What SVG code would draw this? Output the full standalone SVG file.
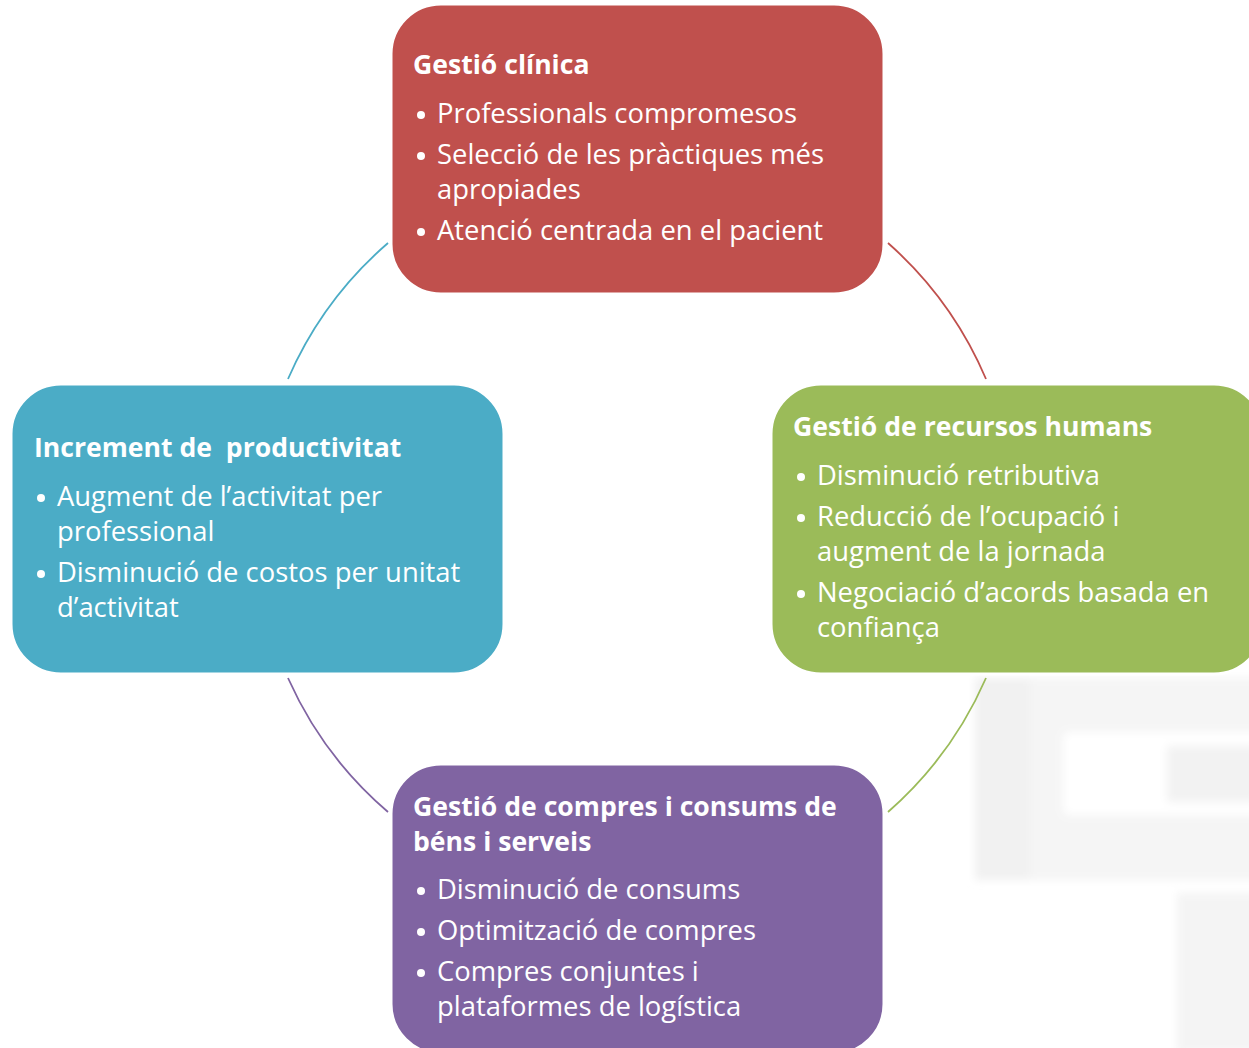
<svg xmlns="http://www.w3.org/2000/svg" width="1249" height="1048" viewBox="0 0 1249 1048">
<defs>
<style>
.box{stroke:#fff;stroke-width:3}
.t{font-family:"Open Sans","Liberation Sans",sans-serif;font-weight:700;font-size:26.6px;fill:#fff}
.b{font-family:"Open Sans","Liberation Sans",sans-serif;font-size:27.4px;fill:#fff}
.dot{fill:#fff}
.arc{fill:none;stroke-width:1.8}
</style>
<filter id="blur" x="-10%" y="-10%" width="120%" height="120%"><feGaussianBlur stdDeviation="4"/></filter>
</defs>
<rect width="1249" height="1048" fill="#fff"/>
<g id="background" filter="url(#blur)">
<rect x="975" y="678" width="290" height="202" fill="#f5f5f5"/>
<rect x="975" y="678" width="55" height="202" fill="#f1f1f1"/>
<rect x="1063" y="732" width="200" height="83" rx="6" fill="#fff"/>
<rect x="1167" y="746" width="90" height="56" fill="#f2f2f2"/>
<rect x="1177" y="893" width="80" height="160" fill="#f4f4f4"/>
</g>
<g id="connectors">
<path class="arc" stroke="#4BACC6" d="M388,243 A380,380 0 0 0 288,379"/>
<path class="arc" stroke="#C0504D" d="M888,243 A380,380 0 0 1 986,379"/>
<path class="arc" stroke="#9BBB59" d="M986,678 A380,380 0 0 1 888,812"/>
<path class="arc" stroke="#8064A2" d="M288,678 A380,380 0 0 0 388,812"/>
</g>
<g id="node-clinica">
<rect class="box" x="391" y="4" width="493" height="290" rx="50" fill="#C0504D"/>
<text class="t" x="413" y="74">Gestió clínica</text>
<circle class="dot" cx="421" cy="115" r="4"/>
<text class="b" x="437" y="123">Professionals compromesos</text>
<circle class="dot" cx="421" cy="156" r="4"/>
<text class="b" x="437" y="164">Selecció de les pràctiques més</text>
<text class="b" x="437" y="199">apropiades</text>
<circle class="dot" cx="421" cy="232" r="4"/>
<text class="b" x="437" y="240">Atenció centrada en el pacient</text>
</g>
<g id="node-rrhh">
<rect class="box" x="771" y="384" width="493" height="290" rx="50" fill="#9BBB59"/>
<text class="t" x="793" y="436">Gestió de recursos humans</text>
<circle class="dot" cx="801" cy="477" r="4"/>
<text class="b" x="817" y="485">Disminució retributiva</text>
<circle class="dot" cx="801" cy="518" r="4"/>
<text class="b" x="817" y="526">Reducció de l’ocupació i</text>
<text class="b" x="817" y="561">augment de la jornada</text>
<circle class="dot" cx="801" cy="594" r="4"/>
<text class="b" x="817" y="602">Negociació d’acords basada en</text>
<text class="b" x="817" y="637">confiança</text>
</g>
<g id="node-productivitat">
<rect class="box" x="11" y="384" width="493" height="290" rx="50" fill="#4BACC6"/>
<text class="t" x="34" y="457" xml:space="preserve">Increment de  productivitat</text>
<circle class="dot" cx="41" cy="498" r="4"/>
<text class="b" x="57" y="506">Augment de l’activitat per</text>
<text class="b" x="57" y="541">professional</text>
<circle class="dot" cx="41" cy="574" r="4"/>
<text class="b" x="57" y="582">Disminució de costos per unitat</text>
<text class="b" x="57" y="617">d’activitat</text>
</g>
<g id="node-compres">
<rect class="box" x="391" y="764" width="493" height="290" rx="50" fill="#8064A2"/>
<text class="t" x="413" y="816">Gestió de compres i consums de</text>
<text class="t" x="413" y="851">béns i serveis</text>
<circle class="dot" cx="421" cy="891" r="4"/>
<text class="b" x="437" y="899">Disminució de consums</text>
<circle class="dot" cx="421" cy="932" r="4"/>
<text class="b" x="437" y="940">Optimització de compres</text>
<circle class="dot" cx="421" cy="973" r="4"/>
<text class="b" x="437" y="981">Compres conjuntes i</text>
<text class="b" x="437" y="1016">plataformes de logística</text>
</g>
</svg>
